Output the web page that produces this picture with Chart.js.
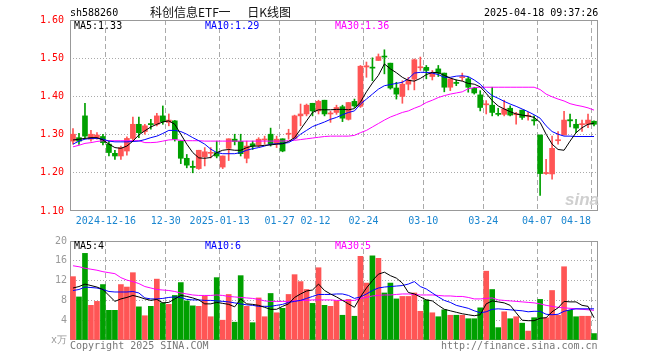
<!DOCTYPE html>
<html>
<head>
<meta charset="utf-8">
<script src="https://cdn.jsdelivr.net/npm/chart.js@4.4.1/dist/chart.umd.min.js"></script>
<style>
  body { margin: 0; background: #fff; }
  #wrap { position: relative; width: 660px; height: 360px; font: 10px "DejaVu Sans Mono", monospace; color: #000; }
  canvas { position: absolute; left: 0; }
  .t { position: absolute; white-space: pre; line-height: 12px; }
</style>
</head>
<body>
<div id="wrap">
  <canvas id="kChart" width="660" height="232" style="top:0"></canvas>
  <canvas id="volChart" width="660" height="128" style="top:232px"></canvas>

  <div class="t" style="left:70px;top:7px">sh588260</div>
  <div class="t" style="left:150px;top:4px;font:12px 'Noto Sans CJK SC';line-height:15px;color:#111"><span style="word-spacing:-3px">科创信息ETF 一</span><span style="word-spacing:14px"> 日K线图</span></div>
  <div class="t" style="left:484px;top:7px">2025-04-18 09:37:26</div>

  <div class="t" style="left:74px;top:20px">MA5:1.33</div>
  <div class="t" style="left:205px;top:20px;color:#0000ff">MA10:1.29</div>
  <div class="t" style="left:335px;top:20px;color:#ff00ff">MA30:1.36</div>

  <div class="t" style="left:74px;top:240px">MA5:4</div>
  <div class="t" style="left:205px;top:240px;color:#0000ff">MA10:6</div>
  <div class="t" style="left:335px;top:240px;color:#ff00ff">MA30:5</div>

  <div class="t" style="left:565px;top:190px;font:italic bold 17px 'Liberation Sans';color:#cfcfcf">sina</div>

  <div class="t" style="left:70px;top:340px;color:#777">Copyright 2025 SINA.COM</div>
  <div class="t" style="left:441px;top:340px;color:#777">http://finance.sina.com.cn</div>
</div>

<script>
// trading days shown on the chart
const dates = [
    '2024-12-06', '2024-12-09', '2024-12-10', '2024-12-11', '2024-12-12', '2024-12-13',
    '2024-12-16', '2024-12-17', '2024-12-18', '2024-12-19', '2024-12-20',
    '2024-12-23', '2024-12-24', '2024-12-25', '2024-12-26', '2024-12-27',
    '2024-12-30', '2024-12-31', '2025-01-02', '2025-01-03',
    '2025-01-06', '2025-01-07', '2025-01-08', '2025-01-09', '2025-01-10',
    '2025-01-13', '2025-01-14', '2025-01-15', '2025-01-16', '2025-01-17',
    '2025-01-20', '2025-01-21', '2025-01-22', '2025-01-23', '2025-01-24',
    '2025-01-27', '2025-02-05', '2025-02-06', '2025-02-07',
    '2025-02-10', '2025-02-11', '2025-02-12', '2025-02-13', '2025-02-14',
    '2025-02-17', '2025-02-18', '2025-02-19', '2025-02-20', '2025-02-21',
    '2025-02-24', '2025-02-25', '2025-02-26', '2025-02-27', '2025-02-28',
    '2025-03-03', '2025-03-04', '2025-03-05', '2025-03-06', '2025-03-07',
    '2025-03-10', '2025-03-11', '2025-03-12', '2025-03-13', '2025-03-14',
    '2025-03-17', '2025-03-18', '2025-03-19', '2025-03-20', '2025-03-21',
    '2025-03-24', '2025-03-25', '2025-03-26', '2025-03-27', '2025-03-28',
    '2025-03-31', '2025-04-01', '2025-04-02', '2025-04-03',
    '2025-04-07', '2025-04-08', '2025-04-09', '2025-04-10', '2025-04-11',
    '2025-04-14', '2025-04-15', '2025-04-16', '2025-04-17', '2025-04-18'
];

const opens = [
    1.283, 1.292, 1.349, 1.288, 1.292, 1.295, 1.275, 1.251, 1.244, 1.257,
    1.290, 1.327, 1.308, 1.329, 1.327, 1.349, 1.332, 1.336, 1.283, 1.238,
    1.217, 1.211, 1.242, 1.251, 1.253, 1.215, 1.264, 1.288, 1.282, 1.238,
    1.276, 1.272, 1.286, 1.301, 1.276, 1.289, 1.301, 1.290, 1.349, 1.354,
    1.382, 1.362, 1.390, 1.354, 1.358, 1.373, 1.340, 1.387, 1.374, 1.477,
    1.476, 1.494, 1.505, 1.487, 1.422, 1.400, 1.432, 1.445, 1.475, 1.476,
    1.452, 1.472, 1.461, 1.424, 1.435, 1.449, 1.446, 1.421, 1.404, 1.378,
    1.377, 1.355, 1.353, 1.369, 1.352, 1.364, 1.348, 1.339, 1.299, 1.198,
    1.197, 1.284, 1.299, 1.339, 1.327, 1.326, 1.327, 1.335
];
const highs = [
    1.316, 1.303, 1.382, 1.311, 1.305, 1.301, 1.283, 1.259, 1.270, 1.294,
    1.346, 1.346, 1.327, 1.340, 1.356, 1.375, 1.354, 1.337, 1.284, 1.248,
    1.231, 1.259, 1.266, 1.266, 1.283, 1.244, 1.289, 1.301, 1.301, 1.283,
    1.283, 1.292, 1.296, 1.317, 1.296, 1.289, 1.314, 1.351, 1.380, 1.380,
    1.382, 1.390, 1.390, 1.361, 1.377, 1.377, 1.384, 1.393, 1.481, 1.490,
    1.501, 1.511, 1.522, 1.487, 1.437, 1.441, 1.450, 1.498, 1.503, 1.481,
    1.468, 1.481, 1.461, 1.446, 1.443, 1.461, 1.450, 1.424, 1.415, 1.389,
    1.424, 1.369, 1.390, 1.375, 1.358, 1.364, 1.358, 1.349, 1.299, 1.235,
    1.296, 1.308, 1.361, 1.354, 1.340, 1.338, 1.354, 1.336
];
const lows = [
    1.275, 1.274, 1.292, 1.283, 1.288, 1.273, 1.244, 1.235, 1.235, 1.246,
    1.283, 1.292, 1.301, 1.314, 1.323, 1.327, 1.323, 1.283, 1.224, 1.213,
    1.200, 1.209, 1.218, 1.239, 1.239, 1.211, 1.232, 1.273, 1.244, 1.226,
    1.261, 1.268, 1.275, 1.270, 1.266, 1.255, 1.288, 1.288, 1.323, 1.349,
    1.349, 1.354, 1.349, 1.332, 1.353, 1.334, 1.338, 1.371, 1.371, 1.450,
    1.441, 1.494, 1.459, 1.419, 1.393, 1.382, 1.417, 1.417, 1.468, 1.446,
    1.443, 1.452, 1.412, 1.415, 1.428, 1.441, 1.411, 1.406, 1.362, 1.354,
    1.349, 1.349, 1.349, 1.349, 1.327, 1.340, 1.338, 1.325, 1.141, 1.196,
    1.183, 1.275, 1.299, 1.320, 1.305, 1.308, 1.318, 1.323
];
const closes = [
    1.301, 1.283, 1.296, 1.301, 1.299, 1.279, 1.253, 1.244, 1.266, 1.290,
    1.327, 1.305, 1.323, 1.326, 1.349, 1.334, 1.338, 1.288, 1.238, 1.220,
    1.214, 1.259, 1.255, 1.253, 1.244, 1.244, 1.289, 1.282, 1.250, 1.270,
    1.270, 1.288, 1.288, 1.276, 1.288, 1.257, 1.303, 1.349, 1.354, 1.377,
    1.362, 1.387, 1.354, 1.356, 1.371, 1.343, 1.384, 1.375, 1.479, 1.480,
    1.474, 1.504, 1.503, 1.422, 1.406, 1.432, 1.443, 1.496, 1.476, 1.468,
    1.461, 1.461, 1.424, 1.446, 1.434, 1.451, 1.424, 1.409, 1.371, 1.380,
    1.358, 1.353, 1.367, 1.351, 1.354, 1.345, 1.350, 1.336, 1.198, 1.200,
    1.264, 1.286, 1.338, 1.336, 1.317, 1.328, 1.338, 1.327
];

// price moving averages as drawn
const ma5 = [
    1.286, 1.288, 1.290, 1.292, 1.292, 1.286, 1.275, 1.266, 1.264, 1.270,
    1.283, 1.299, 1.310, 1.320, 1.327, 1.333, 1.336, 1.327, 1.301, 1.275,
    1.253, 1.239, 1.238, 1.240, 1.253, 1.259, 1.261, 1.259, 1.259, 1.266,
    1.270, 1.270, 1.272, 1.273, 1.275, 1.276, 1.282, 1.292, 1.314, 1.336,
    1.358, 1.365, 1.365, 1.365, 1.366, 1.366, 1.365, 1.368, 1.385, 1.412,
    1.435, 1.455, 1.485, 1.472, 1.462, 1.450, 1.442, 1.440, 1.447, 1.457,
    1.463, 1.462, 1.455, 1.448, 1.443, 1.440, 1.434, 1.432, 1.425, 1.408,
    1.389, 1.375, 1.367, 1.360, 1.354, 1.351, 1.349, 1.345, 1.332, 1.301,
    1.275, 1.261, 1.259, 1.283, 1.305, 1.318, 1.327, 1.330
];
const ma10 = [
    1.275, 1.283, 1.288, 1.290, 1.290, 1.288, 1.283, 1.281, 1.281, 1.281,
    1.282, 1.283, 1.287, 1.292, 1.296, 1.303, 1.311, 1.311, 1.308, 1.301,
    1.292, 1.284, 1.275, 1.262, 1.253, 1.250, 1.250, 1.250, 1.253, 1.259,
    1.263, 1.266, 1.270, 1.275, 1.276, 1.277, 1.279, 1.288, 1.301, 1.311,
    1.321, 1.327, 1.333, 1.340, 1.345, 1.352, 1.358, 1.362, 1.380, 1.393,
    1.406, 1.419, 1.428, 1.431, 1.434, 1.437, 1.446, 1.461, 1.463, 1.463,
    1.461, 1.457, 1.450, 1.450, 1.453, 1.454, 1.452, 1.443, 1.432, 1.415,
    1.402, 1.395, 1.387, 1.380, 1.374, 1.367, 1.360, 1.352, 1.343, 1.323,
    1.308, 1.301, 1.296, 1.296, 1.295, 1.295, 1.295, 1.295
];
const ma30 = [
    1.268, 1.272, 1.277, 1.279, 1.282, 1.284, 1.284, 1.284, 1.284, 1.284,
    1.284, 1.284, 1.279, 1.279, 1.280, 1.283, 1.286, 1.287, 1.285, 1.284,
    1.284, 1.284, 1.283, 1.283, 1.283, 1.283, 1.283, 1.283, 1.283, 1.283,
    1.283, 1.283, 1.283, 1.283, 1.283, 1.283, 1.284, 1.285, 1.287, 1.289,
    1.291, 1.293, 1.295, 1.296, 1.296, 1.296, 1.296, 1.298, 1.305, 1.311,
    1.320, 1.329, 1.338, 1.346, 1.352, 1.358, 1.362, 1.369, 1.375, 1.384,
    1.390, 1.397, 1.402, 1.406, 1.409, 1.412, 1.420, 1.423, 1.424, 1.424,
    1.424, 1.424, 1.424, 1.424, 1.424, 1.424, 1.424, 1.424, 1.418, 1.406,
    1.399, 1.393, 1.388, 1.381, 1.377, 1.374, 1.370, 1.364
];

// volume, in 10k
const vols = [
    12.8, 8.7, 17.5, 7.0, 7.8, 11.2, 6.0, 6.0, 11.2, 10.7,
    13.6, 6.7, 4.9, 6.8, 12.3, 7.5, 7.2, 9.0, 11.6, 7.9,
    6.9, 6.8, 8.9, 4.7, 12.6, 4.0, 9.2, 3.6, 13.0, 6.8,
    3.5, 8.5, 4.7, 9.4, 5.5, 6.4, 9.2, 13.2, 11.8, 10.2,
    7.4, 14.6, 7.0, 6.8, 7.9, 5.0, 8.2, 4.8, 16.9, 11.5,
    17.0, 16.5, 9.5, 11.5, 8.3, 8.8, 8.8, 9.5, 5.8, 8.1,
    5.5, 4.7, 6.1, 5.0, 5.0, 5.0, 4.3, 4.3, 6.5, 13.9,
    10.2, 2.5, 5.7, 4.3, 4.7, 3.4, 1.8, 4.5, 8.2, 4.5,
    10.0, 5.0, 14.8, 6.0, 4.7, 4.8, 4.8, 1.3
];
const vma5 = [
    10.5, 10.8, 11.3, 11.0, 10.7, 10.2, 9.0, 7.8, 8.3, 8.6,
    9.0, 8.7, 8.3, 8.0, 8.2, 7.5, 7.6, 8.3, 9.0, 8.8,
    8.5, 8.1, 7.3, 7.3, 7.6, 7.4, 7.2, 6.7, 8.3, 7.3,
    7.2, 7.0, 6.6, 6.2, 6.2, 6.8, 7.3, 8.6, 9.3, 9.9,
    10.1, 11.3, 10.0, 9.3, 8.7, 8.0, 7.3, 6.6, 8.7, 10.5,
    12.0, 13.3, 13.7, 13.0, 12.5, 11.5, 9.6, 9.3, 8.7, 8.1,
    7.9, 7.0, 6.2, 5.9, 5.6, 5.3, 5.1, 4.9, 5.1, 7.3,
    7.9, 7.7, 7.5, 7.0, 5.5, 4.0, 3.9, 3.9, 4.4, 4.5,
    5.7, 6.5, 7.8, 7.7, 7.7, 7.0, 6.8, 4.5
];
const vma10 = [
    10.0, 10.2, 10.7, 10.6, 10.5, 10.2, 9.8, 9.7, 9.7, 9.7,
    9.8, 9.5, 8.5, 8.3, 8.3, 8.4, 8.6, 8.7, 8.6, 8.2,
    8.1, 8.1, 8.0, 8.0, 7.9, 7.8, 7.7, 7.5, 7.3, 7.1,
    7.0, 6.8, 6.8, 6.8, 7.0, 7.2, 7.6, 7.8, 8.0, 8.4,
    8.8, 9.2, 9.2, 9.2, 9.3, 9.3, 9.0, 8.4, 8.7, 9.3,
    10.0, 10.5, 10.7, 10.8, 10.9, 11.0, 11.3, 11.8, 10.8, 10.3,
    9.5, 8.7, 8.0, 7.6, 7.0, 6.7, 6.4, 5.9, 5.5, 5.7,
    6.2, 6.3, 6.2, 6.1, 6.0, 5.9, 5.7, 5.8, 5.8, 5.2,
    5.1, 5.2, 5.8, 6.1, 6.3, 6.3, 6.3, 6.3
];
const vma30 = [
    15.0, 14.8, 14.5, 14.3, 14.1, 13.8, 13.6, 13.4, 12.6, 12.1,
    11.8, 11.4, 10.8, 10.5, 10.2, 10.1, 10.0, 9.8, 9.5, 9.3,
    9.1, 9.0, 9.0, 9.0, 9.1, 9.0, 8.8, 8.7, 8.6, 8.5,
    8.4, 8.2, 7.9, 7.8, 7.8, 7.8, 7.8, 7.9, 8.0, 8.0,
    8.1, 8.1, 8.1, 8.1, 8.0, 8.0, 8.0, 8.0, 8.4, 8.6,
    8.9, 9.0, 9.1, 9.1, 9.2, 9.3, 9.3, 9.2, 9.1, 9.1,
    9.1, 9.0, 8.9, 8.9, 8.8, 8.8, 8.6, 8.3, 8.3, 8.4,
    8.5, 8.1, 8.0, 7.9, 7.8, 7.7, 7.6, 7.5, 7.3, 7.0,
    6.8, 6.6, 6.5, 6.4, 6.3, 6.2, 6.1, 6.0
];

// x axis: dashed grid lines and their labels
const tickDates = ['2024-12-16', '2024-12-30', '2025-01-13', '2025-01-27', '2025-02-12',
    '2025-02-24', '2025-03-10', '2025-03-24', '2025-04-07', '2025-04-18'];
const tickText = ['2024-12-16', '12-30', '2025-01-13', '01-27', '02-12',
    '02-24', '03-10', '03-24', '04-07', '04-18'];
const priceTicks = [1.10, 1.20, 1.30, 1.40, 1.50, 1.60];
const volTicks = [0, 4, 8, 12, 16, 20];

const monoFont = { family: '"DejaVu Sans Mono", monospace', size: 10 };
Chart.defaults.font.family = monoFont.family;
Chart.defaults.font.size = 10;
Chart.defaults.animation = false;

const upColor = '#ff5555';
const downColor = '#00a000';
const candleColors = closes.map((c, i) => (c >= opens[i] ? upColor : downColor));
const gridIdx = tickDates.map(d => dates.indexOf(d));
const clear = 'rgba(0,0,0,0)';

// grey box round the plot area
const framePlugin = {
    id: 'frame',
    beforeDatasetsDraw(chart) {
        const { ctx, chartArea: a } = chart;
        ctx.save();
        ctx.strokeStyle = '#999';
        ctx.lineWidth = 1;
        ctx.strokeRect(a.left + 0.5, a.top + 0.5, a.right - a.left, a.bottom - a.top - 1);
        ctx.restore();
    }
};

// date labels under the price panel, last one kept inside the box
const xLabelPlugin = {
    id: 'xLabels',
    afterDraw(chart) {
        const { ctx, chartArea, scales: { x } } = chart;
        ctx.save();
        ctx.font = '10px "DejaVu Sans Mono"';
        ctx.fillStyle = '#1a86d0';
        ctx.textAlign = 'center';
        ctx.textBaseline = 'middle';
        tickDates.forEach((d, k) => {
            const text = tickText[k];
            const half = ctx.measureText(text).width / 2;
            let px = x.getPixelForValue(dates.indexOf(d)) - 3;
            px = Math.min(px, chartArea.right - 6 - half);
            ctx.fillText(text, px, chartArea.bottom + 10);
        });
        ctx.restore();
    }
};

const xScale = height => ({
    type: 'category',
    offset: true,
    afterFit: s => { s.height = height; },
    ticks: { display: false, autoSkip: false },
    grid: {
        offset: true,
        drawTicks: false,
        color: c => (gridIdx.includes(c.index) ? '#aaa' : clear)
    },
    border: { display: false, dash: [5, 3] }
});

const lineSet = (data, color) => ({
    type: 'line',
    data,
    borderColor: color,
    borderWidth: 1,
    pointRadius: 0,
    tension: 0,
    order: 1
});

new Chart(document.getElementById('kChart'), {
    type: 'bar',
    data: {
        labels: dates,
        datasets: [
            {
                data: lows.map((l, i) => [l, highs[i]]),
                backgroundColor: candleColors,
                barThickness: 1,
                grouped: false,
                order: 3
            },
            {
                data: opens.map((o, i) => [o, closes[i]]),
                backgroundColor: candleColors,
                barThickness: 5,
                minBarLength: 1,
                grouped: false,
                order: 2
            },
            lineSet(ma5, '#000000'),
            lineSet(ma10, '#0000ff'),
            lineSet(ma30, '#ff00ff')
        ]
    },
    options: {
        responsive: false,
        layout: { padding: { top: 20, right: 63, left: 0, bottom: 0 } },
        plugins: { legend: { display: false }, tooltip: { enabled: false } },
        scales: {
            x: xScale(21),
            y: {
                min: priceTicks[0],
                max: priceTicks[priceTicks.length - 1],
                afterFit: s => { s.width = 70; },
                afterBuildTicks: s => { s.ticks = priceTicks.map(v => ({ value: v })); },
                ticks: { color: '#ff0000', padding: 6, font: monoFont, callback: v => v.toFixed(2) },
                grid: {
                    drawTicks: false,
                    color: c => (c.index > 0 && c.index < priceTicks.length - 1 ? '#aaa' : clear)
                },
                border: { display: false, dash: [1, 2] }
            }
        }
    },
    plugins: [framePlugin, xLabelPlugin]
});

new Chart(document.getElementById('volChart'), {
    type: 'bar',
    data: {
        labels: dates,
        datasets: [
            {
                data: vols,
                backgroundColor: candleColors,
                barThickness: 5,
                order: 2
            },
            lineSet(vma5, '#000000'),
            lineSet(vma10, '#0000ff'),
            lineSet(vma30, '#ff00ff')
        ]
    },
    options: {
        responsive: false,
        layout: { padding: { top: 8, right: 63, left: 0, bottom: 0 } },
        plugins: { legend: { display: false }, tooltip: { enabled: false } },
        scales: {
            x: xScale(20),
            y: {
                min: volTicks[0],
                max: volTicks[volTicks.length - 1],
                afterFit: s => { s.width = 70; },
                afterBuildTicks: s => { s.ticks = volTicks.map(v => ({ value: v })); },
                ticks: { color: '#999', padding: 3, font: monoFont, callback: v => (v === 0 ? 'x万' : String(v)) },
                grid: {
                    drawTicks: false,
                    color: c => (c.index > 0 && c.index < volTicks.length - 1 ? '#aaa' : clear)
                },
                border: { display: false, dash: [1, 2] }
            }
        }
    },
    plugins: [framePlugin]
});
</script>
</body>
</html>
